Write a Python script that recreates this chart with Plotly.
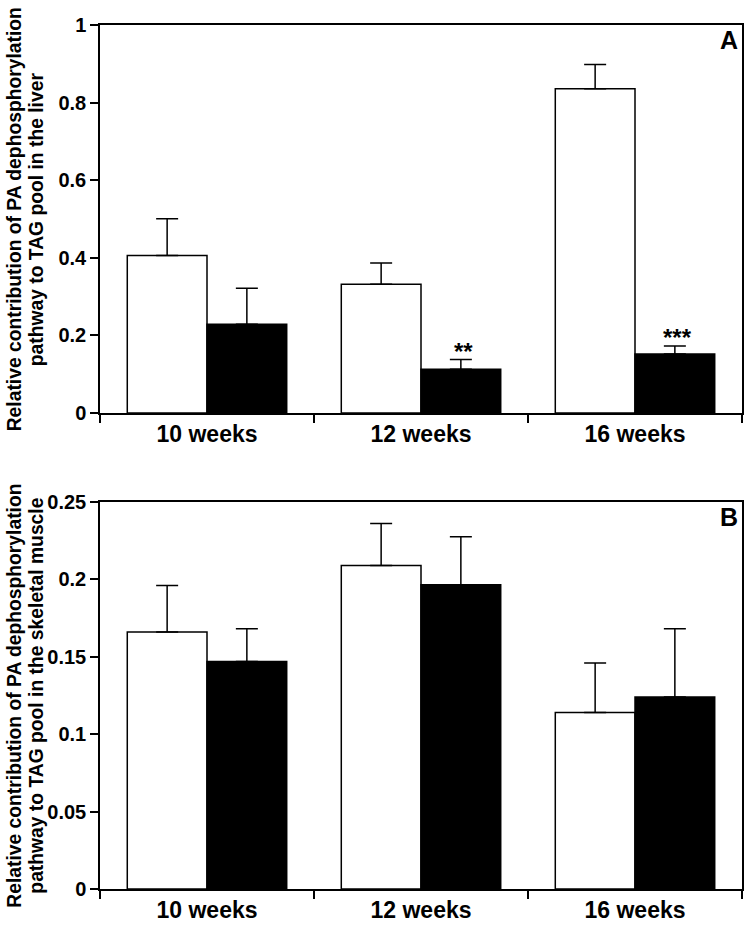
import plotly.graph_objects as go
from plotly.subplots import make_subplots

categories = ["10 weeks", "12 weeks", "16 weeks"]

# Panel A (liver)
liver_white = [0.406, 0.332, 0.836]
liver_white_err = [0.095, 0.055, 0.062]
liver_black = [0.229, 0.113, 0.152]
liver_black_err = [0.093, 0.025, 0.021]
liver_signif = ["", "**", "***"]

# Panel B (skeletal muscle)
muscle_white = [0.166, 0.209, 0.114]
muscle_white_err = [0.030, 0.027, 0.032]
muscle_black = [0.147, 0.1965, 0.124]
muscle_black_err = [0.021, 0.031, 0.044]

title_lines_a = ["Relative contribution of PA dephosphorylation", "pathway to TAG pool in the liver"]
title_lines_b = ["Relative contribution of PA dephosphorylation", "pathway to TAG pool in the skeletal muscle"]

FONT = "Liberation Sans, Arial, Helvetica, sans-serif"

fig = make_subplots(rows=2, cols=1, vertical_spacing=0.1)


def add_panel(row, white, werr, black, berr):
    fig.add_trace(go.Bar(
        x=categories, y=white, marker=dict(color="white", line=dict(color="black", width=1.5)),
        error_y=dict(type="data", symmetric=False, array=werr, arrayminus=[0] * len(werr),
                     color="black", thickness=1.5, width=11),
        showlegend=False), row=row, col=1)
    fig.add_trace(go.Bar(
        x=categories, y=black, marker=dict(color="black", line=dict(color="black", width=1.5)),
        error_y=dict(type="data", symmetric=False, array=berr, arrayminus=[0] * len(berr),
                     color="black", thickness=1.5, width=11),
        showlegend=False), row=row, col=1)


add_panel(1, liver_white, liver_white_err, liver_black, liver_black_err)
add_panel(2, muscle_white, muscle_white_err, muscle_black, muscle_black_err)

axis_common = dict(showline=True, linecolor="black", linewidth=1.5, mirror=True,
                   ticks="outside", ticklen=8, tickwidth=1.5, tickcolor="black",
                   showgrid=False, zeroline=False,
                   tickfont=dict(family=FONT, size=20, color="black", weight="bold"))

fig.update_xaxes(**axis_common)
fig.update_xaxes(tickson="boundaries", tickfont=dict(family=FONT, size=23, color="black", weight="bold"))
fig.update_yaxes(**axis_common)

fig.update_yaxes(range=[0, 1], dtick=0.2, row=1, col=1)
fig.update_yaxes(range=[0, 0.25], dtick=0.05, row=2, col=1)

fig.update_layout(
    yaxis=dict(domain=[(891 - 414) / 866, 1]),
    yaxis2=dict(domain=[0, (891 - 503) / 866]),
)

# significance marks
for cat, ve, er, s in zip(categories, liver_black, liver_black_err, liver_signif):
    if s:
        fig.add_annotation(x=cat, y=ve + er, xref="x", yref="y", text=s, showarrow=False,
                           xshift=42, yanchor="bottom", yshift=-7,
                           font=dict(family=FONT, size=24, color="black", weight="bold"))

# panel letters
for xr, yr, letter in [("x domain", "y domain", "A"), ("x2 domain", "y2 domain", "B")]:
    fig.add_annotation(x=1.0, y=1.0, xref=xr, yref=yr, text=letter, showarrow=False,
                       xanchor="right", yanchor="top", xshift=-2, yshift=1,
                       font=dict(family=FONT, size=25, color="black", weight="bold"))

# y axis titles (two lines placed separately for tight line spacing)
for yr, lines in zip(["y domain", "y2 domain"], [title_lines_a, title_lines_b]):
    for i, t in enumerate(lines):
        xpix = 14 + 22 * i
        fig.add_annotation(x=(xpix - 100) / 644, y=0.5, xref="paper", yref=yr, text=t, textangle=-90,
                           showarrow=False, xanchor="center", yanchor="middle",
                           font=dict(family=FONT, size=19.3, color="black", weight="bold"))

fig.update_layout(
    width=750, height=929,
    margin=dict(l=100, r=6, t=25, b=38),
    barmode="group", bargap=0.255, bargroupgap=0,
    plot_bgcolor="white", paper_bgcolor="white",
)

fig.write_html("out.html", config={"displayModeBar": False},
               post_script="document.body.style.margin='0';document.documentElement.style.overflow='hidden';")
